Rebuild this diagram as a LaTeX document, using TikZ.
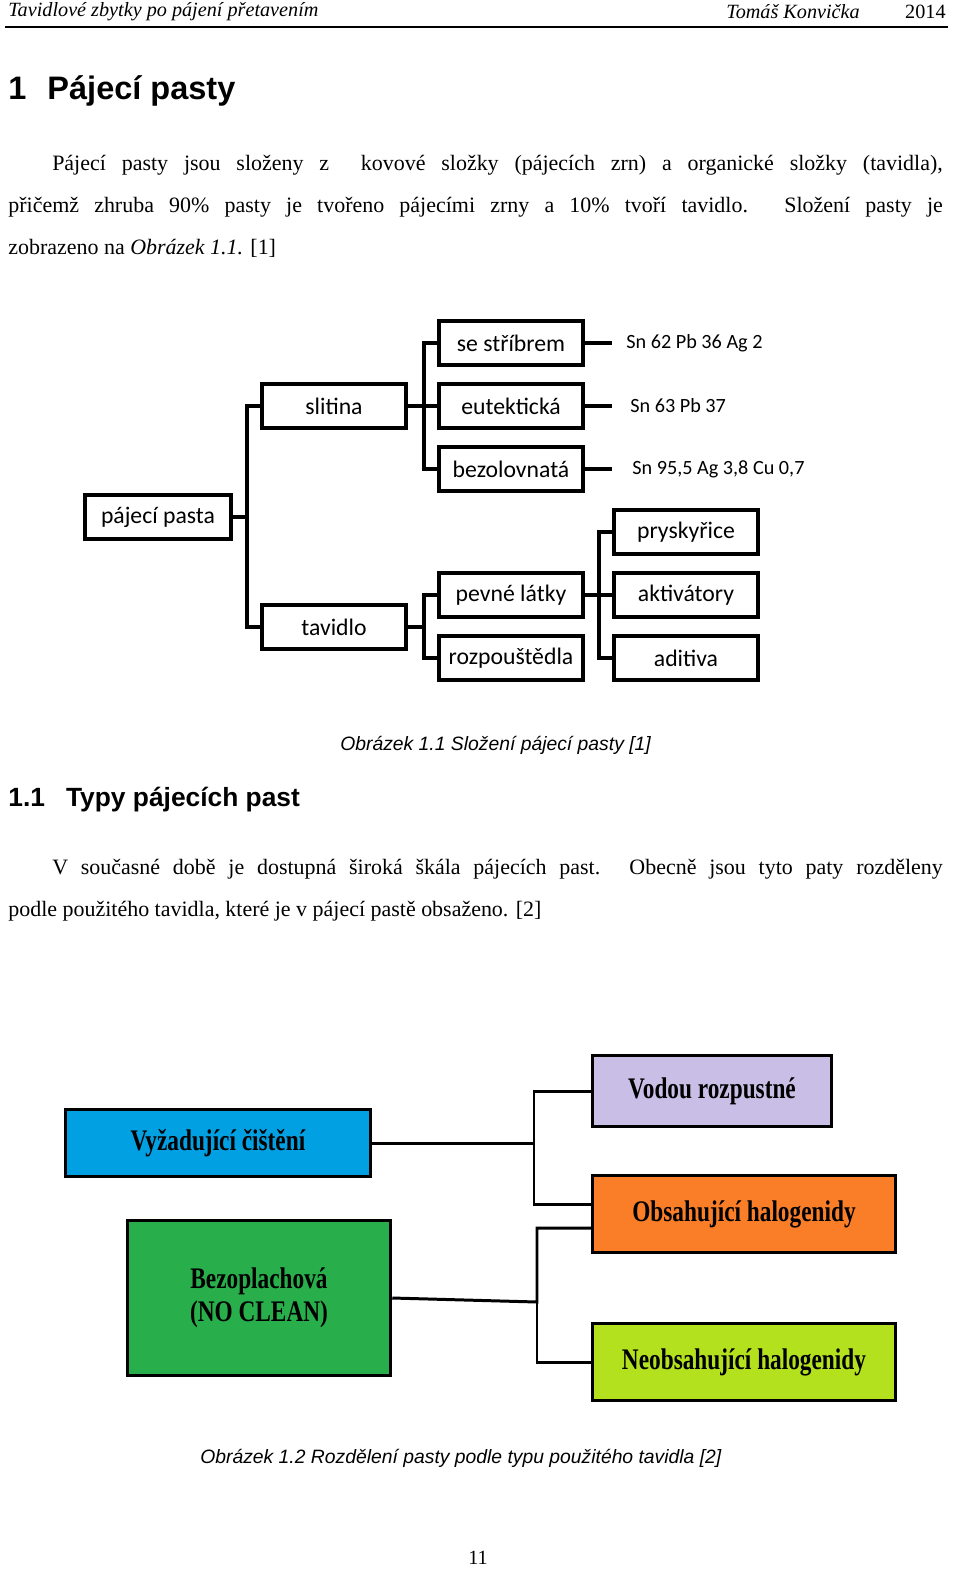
\documentclass[tikz,border=0pt]{standalone}
\usepackage{fontspec}
\setmainfont{Liberation Serif}
\newfontfamily\carlito{Carlito}
\newfontfamily\arial{Liberation Sans}
\newfontfamily\condserif{Liberation Serif}[FakeStretch=0.78]
\usetikzlibrary{positioning}
\definecolor{cyanbox}{RGB}{0,160,227}
\definecolor{greenbox}{RGB}{40,175,75}
\definecolor{lilacbox}{RGB}{200,190,230}
\definecolor{orangebox}{RGB}{250,125,40}
\definecolor{limebox}{RGB}{180,225,30}
\tikzset{
  part/.style={draw, line width=2.3pt, minimum width=82pt, minimum height=25pt, inner sep=1pt, font=\carlito\fontsize{13.5}{15}\selectfont},
  alloy/.style={anchor=west, inner sep=0pt, font=\carlito\fontsize{11.5}{13}\selectfont},
  link/.style={line width=2.3pt},
  group/.style={draw, line width=1.7pt, inner sep=2pt, align=center, font=\condserif\bfseries\fontsize{17}{19}\selectfont},
  wire/.style={line width=1.7pt},
  caption/.style={anchor=west, inner sep=0pt, font=\arial\itshape\fontsize{11}{13}\selectfont},
}
\begin{document}
\begin{tikzpicture}[x=0.02cm, y=-0.02cm]
\useasboundingbox (0,0) rectangle (960,1583);
% header
\node[anchor=west, inner sep=0pt, font=\itshape\fontsize{11.5}{13}\selectfont] (title) at (8,12) {Tavidlové zbytky po pájení přetavením};
\node[anchor=west, inner sep=0pt, font=\itshape\fontsize{11.5}{13}\selectfont] (author) at (726,12) {Tomáš Konvička};
\node[anchor=east, inner sep=0pt, font=\fontsize{11.5}{13}\selectfont] (year) at (946,12) {2014};
\draw[line width=1.4pt] (5,27) -- (948,27);
\node[anchor=west, inner sep=0pt, font=\arial\bfseries\fontsize{18.5}{20}\selectfont] (chapter) at (8,91) {1\hspace{12pt}Pájecí pasty};
\node[anchor=north west, inner sep=0pt, text width=938*0.567pt, align=justify, font=\fontsize{12.5}{24}\selectfont] (para1) at (8,155)
  {\hspace*{25pt}Pájecí pasty jsou složeny z~ kovové složky (pájecích zrn) a organické složky (tavidla),\linebreak
   přičemž zhruba 90\% pasty je tvořeno pájecími zrny a 10\% tvoří tavidlo. Složení pasty je\linebreak
   zobrazeno na \textit{Obrázek 1.1.} [1]};
% composition tree
\node[part, minimum width=83pt] (pasta) at (158,517) {pájecí pasta};
\node[part] (slitina) at (334,406) {slitina};
\node[part] (tavidlo) at (334,627) {tavidlo};
\node[part] (stribro) at (511,343) {se stříbrem};
\node[part] (eutekt) at (511,406) {eutektická};
\node[part] (bezolov) at (511,469) {bezolovnatá};
\node[part] (pevne) at (511,595) {pevné látky};
\node[part] (rozpoust) at (511,658) {rozpouštědla};
\node[part] (prysk) at (686,532) {pryskyřice};
\node[part] (aktiv) at (686,595) {aktivátory};
\node[part] (aditiva) at (686,658) {aditiva};
\node[alloy] (snag) at (626,343) {Sn 62 Pb 36 Ag 2};
\node[alloy] (snpb) at (630,406) {Sn 63 Pb 37};
\node[alloy] (sncu) at (632,469) {Sn 95,5 Ag 3,8 Cu 0,7};
\draw[link] (pasta.east) -- ++(14,0) coordinate (b1) |- (slitina.west);
\draw[link] (b1) |- (tavidlo.west);
\draw[link] (slitina.east) -- ++(16,0) coordinate (b2) |- (stribro.west);
\draw[link] (b2) |- (eutekt.west);
\draw[link] (b2) |- (bezolov.west);
\draw[link] (tavidlo.east) -- ++(16,0) coordinate (b3) |- (pevne.west);
\draw[link] (b3) |- (rozpoust.west);
\draw[link] (pevne.east) -- ++(14,0) coordinate (b4) |- (prysk.west);
\draw[link] (b4) |- (aktiv.west);
\draw[link] (b4) |- (aditiva.west);
\draw[link] (stribro.east) -- ++(27,0) coordinate (e1);
\draw[link] (eutekt.east) -- ++(27,0) coordinate (e2);
\draw[link] (bezolov.east) -- ++(27,0) coordinate (e3);
\node[caption] (cap1) at (340,745) {Obrázek 1.1 Složení pájecí pasty [1]};
\node[anchor=west, inner sep=0pt, font=\arial\bfseries\fontsize{15}{17}\selectfont] (section) at (8,800) {1.1\hspace{12pt}Typy pájecích past};
\node[anchor=north west, inner sep=0pt, text width=938*0.567pt, align=justify, font=\fontsize{12.5}{24}\selectfont] (para2) at (8,859)
  {\hspace*{25pt}V současné době je dostupná široká škála pájecích past. Obecně jsou tyto paty rozděleny\linebreak
   podle použitého tavidla, které je v pájecí pastě obsaženo. [2]};
% flux types
\node[group, fill=cyanbox, minimum width=174pt, minimum height=38pt] (cisteni) at (218,1143) {Vyžadující čištění};
\node[group, fill=greenbox, minimum width=150pt, minimum height=88pt] (noclean) at (259,1298) {Bezoplachová\\(NO CLEAN)};
\node[group, fill=lilacbox, minimum width=136pt, minimum height=40pt] (vodou) at (712,1091) {Vodou rozpustné};
\node[group, fill=orangebox, minimum width=172pt, minimum height=44pt] (obsah) at (744,1214) {Obsahující halogenidy};
\node[group, fill=limebox, minimum width=172pt, minimum height=44pt] (neobsah) at (744,1362) {Neobsahující halogenidy};
\coordinate (o1) at (592,1204);
\coordinate (o2) at (592,1228);
\draw[wire] (cisteni.east) -- (534,1143) coordinate (j1) |- (vodou.west);
\draw[wire] (j1) |- (o1);
\draw[wire] (noclean.east) -- (537,1302) coordinate (j2) |- (o2);
\draw[wire] (j2) |- (neobsah.west);
\node[caption] (cap2) at (200,1458) {Obrázek 1.2 Rozdělení pasty podle typu použitého tavidla [2]};
\node[inner sep=0pt, font=\fontsize{11.5}{13}\selectfont] (page) at (478,1558) {11};
\end{tikzpicture}
\end{document}
